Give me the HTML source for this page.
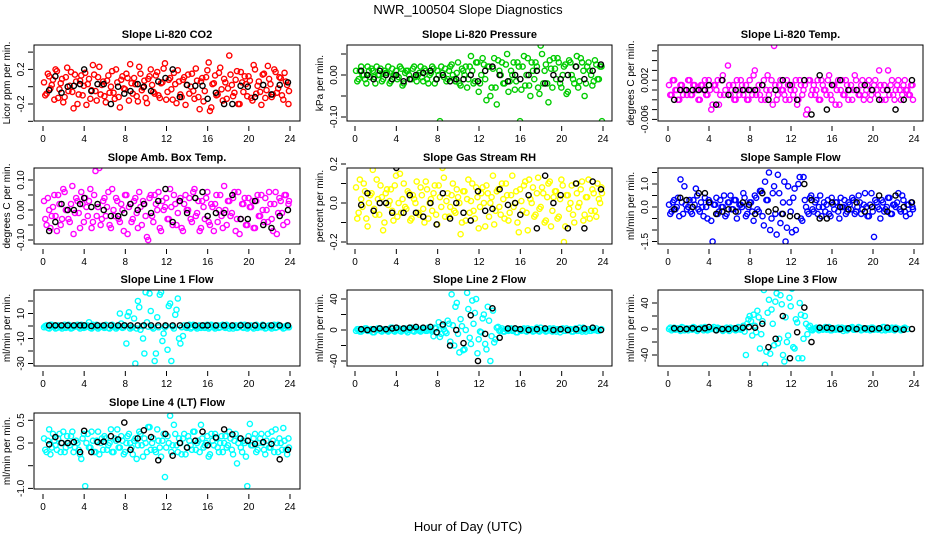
<!DOCTYPE html>
<html><head><meta charset="utf-8">
<style>
html,body{margin:0;padding:0;background:#fff;}
svg{display:block;font-family:"Liberation Sans",sans-serif;}
</style></head>
<body>
<svg id="chart" width="936" height="540" viewBox="0 0 936 540" xmlns="http://www.w3.org/2000/svg">
<rect x="0" y="0" width="936" height="540" fill="#fff"/>
<text x="468" y="14" text-anchor="middle" font-size="13">NWR_100504  Slope Diagnostics</text>
<text x="468" y="531" text-anchor="middle" font-size="13">Hour of Day (UTC)</text>
</svg>
<script>
const hoursA=[0.1,0.35,0.6,0.85,1.1,1.35,1.6,1.85,2.1,2.35,2.6,2.85,3.1,3.35,3.6,3.85,4.1,4.35,4.6,4.85,5.1,5.35,5.6,5.85,6.1,6.35,6.6,6.85,7.1,7.35,7.6,7.85,8.1,8.35,8.6,8.85,9.1,9.35,9.6,9.85,10.1,10.35,10.6,10.85,11.1,11.35,11.6,11.85,12.1,12.35,12.6,12.85,13.1,13.35,13.6,13.85,14.1,14.35,14.6,14.85,15.1,15.35,15.6,15.85,16.1,16.35,16.6,16.85,17.1,17.35,17.6,17.85,18.1,18.35,18.6,18.85,19.1,19.35,19.6,19.85,20.1,20.35,20.6,20.85,21.1,21.35,21.6,21.85,22.1,22.35,22.6,22.85,23.1,23.35,23.6,23.85];
const hoursB=[0.22,0.47,0.72,0.97,1.22,1.47,1.72,1.97,2.22,2.47,2.72,2.97,3.22,3.47,3.72,3.97,4.22,4.47,4.72,4.97,5.22,5.47,5.72,5.97,6.22,6.47,6.72,6.97,7.22,7.47,7.72,7.97,8.22,8.47,8.72,8.97,9.22,9.47,9.72,9.97,10.22,10.47,10.72,10.97,11.22,11.47,11.72,11.97,12.22,12.47,12.72,12.97,13.22,13.47,13.72,13.97,14.22,14.47,14.72,14.97,15.22,15.47,15.72,15.97,16.22,16.47,16.72,16.97,17.22,17.47,17.72,17.97,18.22,18.47,18.72,18.97,19.22,19.47,19.72,19.97,20.22,20.47,20.72,20.97,21.22,21.47,21.72,21.97,22.22,22.47,22.72,22.97,23.22,23.47,23.72,23.9];
const hoursK=[0.6,1.2,1.8,2.4,3.0,3.6,4.0,4.7,5.3,5.9,6.6,7.3,7.9,8.5,9.2,9.8,10.5,11.2,11.9,12.6,13.3,14.0,14.8,15.5,16.0,16.8,17.6,18.4,19.2,19.9,20.6,21.4,22.2,23.0,23.8];
const xTicks=[0,4,8,12,16,20,24];

const co2A=[0.05,-0.08,0.12,0.02,-0.15,0.18,-0.03,0.09,-0.12,0.22,0.01,-0.06,0.14,-0.2,0.07,-0.1,0.16,0.03,-0.14,0.25,-0.05,0.11,-0.09,0.06,-0.18,0.13,0.0,-0.07,0.2,-0.12,0.08,-0.02,0.15,-0.16,0.04,0.1,-0.11,0.23,-0.04,0.07,-0.19,0.12,0.02,-0.08,0.17,-0.13,0.05,0.27,-0.06,0.1,-0.15,0.03,0.19,-0.09,0.08,-0.21,0.14,0.0,-0.05,0.21,-0.12,0.06,-0.17,0.11,0.28,-0.24,0.04,-0.1,0.16,-0.03,0.09,-0.14,0.36,0.02,-0.07,0.18,-0.2,0.05,0.12,-0.11,0.07,-0.16,0.2,0.01,-0.06,0.14,-0.13,0.24,0.03,-0.09,0.17,-0.02,0.1,-0.15,0.06,-0.2];
const co2B=[-0.1,0.15,-0.02,0.08,0.2,-0.13,0.04,-0.18,0.11,-0.05,0.17,-0.25,0.06,-0.09,0.13,0.01,-0.21,0.09,-0.04,0.14,-0.16,0.23,0.02,-0.11,0.07,-0.07,0.18,-0.14,0.05,-0.24,0.12,-0.03,0.1,0.26,-0.08,0.03,-0.17,0.15,-0.01,-0.13,0.09,0.2,-0.06,0.13,-0.1,0.04,0.21,-0.15,0.08,-0.03,0.16,-0.19,0.06,-0.12,0.11,0.02,-0.08,0.15,-0.14,0.07,-0.26,0.1,-0.05,0.19,-0.28,0.03,0.13,-0.09,0.22,-0.16,0.05,-0.02,0.14,-0.11,0.08,-0.2,0.17,-0.06,0.03,0.12,-0.13,0.25,-0.08,0.06,-0.21,0.15,-0.04,0.09,-0.12,0.2,-0.07,0.11,-0.1,0.16,0.02,-0.05];
const co2K=[-0.04,0.12,-0.07,0.0,0.01,0.03,0.2,-0.05,0.03,0.03,-0.2,0.0,-0.08,-0.05,0.03,0.0,-0.05,0.06,0.1,0.2,-0.12,0.02,0.01,0.01,-0.14,-0.07,-0.2,-0.2,0.01,0.0,-0.12,0.02,-0.09,0.02,0.05];

const presA=[0.01,-0.01,0.02,0.0,-0.02,0.01,0.015,-0.005,0.02,0.0,-0.015,0.01,0.005,-0.02,0.015,0.0,-0.01,0.02,-0.025,0.005,0.01,-0.01,0.015,-0.005,0.0,0.02,-0.015,0.01,-0.02,0.005,0.015,-0.01,0.0,0.02,-0.005,-0.015,0.01,0.025,-0.01,0.005,-0.02,0.015,0.0,-0.03,0.02,0.01,-0.015,0.03,-0.02,0.04,-0.01,0.02,-0.05,0.015,-0.03,0.035,0.0,-0.02,0.025,-0.04,0.01,0.03,-0.015,0.02,-0.035,0.045,0.0,-0.025,0.03,-0.01,0.02,-0.045,0.05,0.01,-0.02,0.035,-0.03,0.015,0.04,-0.02,0.0,0.025,-0.04,0.03,-0.01,0.02,-0.03,0.04,0.01,-0.02,0.03,0.0,-0.015,0.025,-0.01,0.02];
const presB=[-0.015,0.01,0.0,-0.01,0.02,-0.005,0.01,-0.02,0.0,0.015,-0.01,0.005,0.02,-0.015,0.0,0.01,-0.005,0.015,-0.02,0.01,0.0,-0.01,0.02,-0.015,0.005,-0.005,0.015,-0.01,0.0,0.02,-0.02,0.01,-0.11,0.005,0.015,-0.01,0.02,0.0,-0.015,0.03,-0.025,0.01,0.02,-0.01,0.045,-0.02,0.03,-0.04,0.0,0.025,-0.06,0.02,-0.03,0.04,-0.07,0.01,0.03,-0.02,0.05,-0.015,0.0,-0.035,0.03,-0.11,0.02,-0.025,0.04,-0.05,0.01,0.03,-0.03,0.07,-0.02,0.025,-0.065,0.015,0.04,-0.01,0.03,-0.03,0.02,-0.045,0.035,0.0,-0.02,0.045,-0.015,0.03,-0.05,0.02,0.01,-0.025,0.035,-0.01,0.02,-0.11];
const presK=[0.01,0.0,-0.01,0.01,0.0,-0.01,0.0,-0.015,-0.01,0.0,0.005,0.01,-0.01,0.0,-0.015,-0.01,-0.01,0.0,-0.015,0.01,0.02,0.0,-0.015,0.0,-0.01,0.0,0.01,-0.02,0.0,-0.01,0.0,0.02,-0.01,0.01,0.025];

const tempA=[0.001,-0.001,0.002,0.0,-0.002,0.001,0.0,-0.001,0.002,-0.001,0.001,0.0,-0.002,0.001,0.002,-0.001,0.0,-0.003,0.001,0.002,-0.001,0.003,0.0,0.005,-0.001,0.001,-0.002,0.0,0.002,-0.001,0.001,-0.002,0.0,0.003,-0.001,0.001,-0.002,0.002,0.0,-0.001,0.002,0.009,-0.002,0.001,0.0,-0.001,0.002,-0.002,0.001,0.0,-0.003,0.002,-0.001,0.001,-0.004,0.002,0.0,-0.001,0.002,-0.002,0.001,0.0,0.002,-0.001,0.001,-0.003,0.002,0.0,-0.001,0.002,-0.002,0.001,0.0,0.002,-0.001,0.001,-0.002,0.0,0.002,-0.001,0.001,0.0,0.004,-0.002,0.001,0.0,-0.001,0.002,-0.002,0.001,0.0,-0.001,0.002,0.0,-0.001,0.001];
const tempB=[-0.001,0.002,0.0,-0.002,0.001,-0.001,0.0,0.002,-0.001,0.001,0.0,-0.002,0.001,0.0,-0.001,0.002,-0.004,0.001,0.0,-0.003,0.002,-0.001,-0.009,0.001,0.0,-0.002,0.002,-0.001,0.001,0.0,-0.002,0.002,-0.001,0.004,0.0,-0.001,0.001,-0.002,0.003,0.0,-0.003,0.001,-0.001,0.002,0.0,-0.002,0.001,0.0,-0.001,0.002,-0.002,0.001,0.0,-0.005,0.002,-0.001,0.001,0.0,-0.002,0.002,0.0,-0.001,0.003,-0.002,0.001,0.0,-0.003,0.002,-0.001,0.001,0.0,-0.002,0.003,0.0,-0.001,0.002,-0.001,0.001,-0.002,0.0,0.002,-0.001,0.001,0.0,-0.002,0.004,0.001,-0.001,0.0,0.002,-0.002,0.001,0.0,-0.001,0.001,-0.002];
const tempK=[-0.002,0.0,0.0,0.0,0.0,0.0,0.001,-0.003,0.002,-0.001,0.0,0.0,0.0,0.0,0.001,-0.002,0.0,0.002,0.001,-0.002,0.002,-0.005,0.003,-0.004,0.001,0.002,0.0,0.0,0.001,0.0,-0.002,0.0,-0.004,-0.002,0.002];

const boxA=[0.03,-0.05,0.0,-0.02,0.05,-0.07,0.02,-0.03,0.06,0.0,-0.04,0.08,-0.01,0.03,-0.06,0.02,0.04,-0.02,0.07,-0.04,0.13,0.01,-0.05,0.03,-0.02,0.06,-0.06,0.0,0.04,-0.03,0.02,-0.07,0.05,0.01,-0.04,0.03,-0.01,0.06,-0.05,0.02,-0.09,0.04,-0.02,0.05,0.0,-0.06,0.03,0.01,-0.03,0.07,-0.05,0.02,-0.01,0.04,-0.07,0.05,0.0,-0.03,0.06,-0.02,0.03,-0.06,0.01,0.04,-0.04,0.02,-0.07,0.05,0.0,-0.02,0.08,-0.05,0.03,-0.01,0.06,-0.03,-0.08,0.02,0.04,-0.05,0.01,0.03,-0.06,0.05,-0.02,0.0,0.04,-0.04,0.02,-0.07,0.06,-0.01,0.03,-0.05,0.05,0.02];
const boxB=[-0.03,0.04,-0.06,0.01,-0.02,0.05,-0.05,0.07,0.0,-0.03,0.02,-0.08,0.04,-0.01,0.06,-0.04,0.01,0.03,-0.06,0.05,-0.02,0.14,-0.03,0.04,0.01,-0.05,0.07,-0.02,0.03,-0.04,0.0,0.05,-0.08,0.02,-0.03,0.04,-0.06,0.01,0.03,-0.02,-0.1,0.05,-0.04,0.02,0.06,-0.07,0.0,0.04,-0.03,0.01,0.05,-0.05,0.03,-0.06,0.02,0.0,0.04,-0.04,0.07,-0.01,-0.07,0.03,-0.03,0.06,-0.05,0.01,0.02,-0.04,0.05,-0.06,0.0,0.03,-0.02,0.04,-0.07,0.06,-0.03,0.02,-0.05,0.04,0.01,-0.06,0.03,-0.02,0.05,-0.04,0.0,0.06,-0.03,0.02,-0.08,0.04,-0.01,0.05,-0.04,0.03];
const boxK=[-0.07,-0.04,0.02,0.0,0.0,0.02,0.04,0.01,0.02,0.0,-0.02,-0.02,-0.01,0.02,0.0,0.02,-0.01,0.03,0.07,-0.04,0.03,-0.01,0.04,0.06,-0.02,-0.01,-0.01,0.05,-0.03,-0.03,0.03,-0.05,-0.06,-0.02,0.0];

const rhA=[0.08,-0.05,0.02,0.1,-0.08,0.0,0.05,-0.03,0.12,-0.06,0.03,-0.1,0.07,0.01,-0.04,0.09,-0.07,0.15,0.02,-0.02,0.06,-0.09,0.04,0.0,-0.05,0.08,-0.03,0.11,-0.08,0.02,0.05,-0.06,0.09,-0.02,0.13,0.01,-0.07,0.04,-0.04,0.07,0.0,-0.1,0.06,0.02,-0.05,0.1,-0.08,0.03,-0.02,0.08,-0.12,0.05,0.0,0.14,-0.04,0.07,-0.06,0.02,0.1,-0.09,0.04,-0.02,0.06,-0.15,0.01,0.09,-0.05,0.12,0.0,-0.07,0.05,-0.03,0.08,-0.1,0.03,0.11,-0.04,0.06,-0.08,0.02,0.09,-0.12,0.04,0.0,-0.06,0.1,-0.02,0.07,-0.09,0.03,0.12,-0.04,0.05,-0.07,0.02,0.08];
const rhB=[-0.08,0.12,-0.02,0.06,-0.12,0.04,0.17,-0.06,0.02,0.09,-0.14,0.05,-0.01,0.07,-0.09,0.14,0.0,-0.05,0.1,-0.03,0.05,-0.08,0.02,0.11,-0.06,0.04,-0.1,0.07,0.0,-0.04,0.09,-0.11,0.03,0.18,-0.07,0.05,-0.02,0.1,-0.05,0.03,-0.16,0.06,-0.09,0.12,0.01,-0.04,0.08,-0.13,0.05,0.0,0.09,-0.07,0.03,-0.11,0.06,-0.02,0.1,-0.08,0.04,-0.05,0.14,0.0,-0.1,0.07,-0.04,0.11,-0.14,0.02,0.08,-0.06,0.13,-0.02,0.05,-0.09,0.1,-0.12,0.03,0.06,-0.07,0.12,-0.2,0.04,-0.03,0.09,-0.1,0.05,0.0,0.11,-0.06,0.03,-0.08,0.07,-0.04,0.1,0.0,0.05];
const rhK=[-0.01,0.05,-0.04,0.0,0.0,-0.05,0.18,-0.05,0.04,-0.05,-0.07,0.0,-0.11,0.05,-0.08,0.0,-0.05,-0.09,0.06,-0.04,-0.03,0.07,-0.01,0.0,-0.06,0.04,-0.13,0.14,0.0,0.04,-0.13,0.1,-0.13,0.11,0.07];

const sfA=[0.1,-0.2,0.3,0.0,-0.4,0.2,0.9,-0.1,0.3,-0.3,0.1,0.5,-0.2,0.0,0.4,-0.5,0.2,-1.5,0.1,-0.3,0.3,0.0,-0.4,0.2,0.5,-0.1,0.3,-0.2,0.1,0.6,-0.4,0.0,0.2,-0.6,0.4,-0.2,0.7,-0.8,0.3,1.5,-0.5,0.9,-1.2,0.6,-0.3,1.1,-0.9,0.2,-1.1,0.8,-0.4,1.3,-0.6,0.3,-0.2,0.4,-0.1,0.2,-0.3,0.5,0.0,-0.2,0.3,-0.4,0.1,0.2,-0.2,0.4,0.0,-0.3,0.2,-0.1,0.3,-0.2,0.5,-0.3,0.1,0.0,-0.4,0.6,-1.3,0.2,-0.1,0.3,-0.2,0.0,0.4,-0.3,0.1,0.2,-0.1,0.5,-0.2,0.1,-0.3,0.0];
const sfB=[-0.3,0.2,-0.1,0.4,1.2,-0.3,0.1,0.0,-0.2,0.3,0.8,-0.1,0.2,-0.4,0.0,0.3,-0.6,0.1,0.4,-0.2,0.0,0.5,-0.3,0.2,-0.1,0.3,-0.5,0.1,0.0,0.4,-0.3,0.2,-0.2,0.5,-0.1,0.7,-0.4,1.1,0.3,-1.0,0.6,-0.3,1.4,-0.7,0.2,-1.5,0.9,-0.2,0.4,-1.0,1.0,-0.5,1.3,0.0,-0.3,0.5,-0.2,0.3,0.0,-0.4,0.2,0.1,-0.3,0.4,-0.1,0.2,-0.5,0.0,0.3,-0.2,0.1,0.4,-0.3,0.0,0.2,-0.1,0.6,-0.4,0.1,-0.2,0.3,0.0,-0.5,0.2,-0.1,0.4,-0.3,0.1,0.0,0.6,-0.2,0.3,-0.4,0.1,0.2,-0.1];
const sfK=[-0.1,0.4,0.3,0.0,0.6,0.6,0.2,-0.3,-0.2,-0.1,-0.2,0.2,0.1,-0.3,0.6,-0.2,-0.1,-0.3,-0.4,-0.4,1.0,0.3,-0.5,-0.5,0.2,0.0,-0.1,0.2,-0.2,0.0,0.5,-0.2,0.5,0.0,0.2];

const l1A=[-1,0.5,-2,1,-0.5,-1.5,0,-2,1,-1,0.5,-1.5,-0.5,1,-2,0,-1,0.5,-1.5,1,-0.5,-2,0,-1,1,-1.5,0.5,-0.5,-2,0,2,-1,-14,11,-1,6,-2,15,0,-22,3,26,-1,-28,7,25,-12,-1,-19,18,-0.5,9,22,-14,-8,-1,0.5,-2,1,-1,0,-1.5,0.5,-0.5,-2,1,-1,0,-1.5,0.5,-1,1,-2,0,-0.5,-1.5,0.5,-1,1,-2,0,-1,0.5,-1.5,-0.5,1,-2,0,-1,0.5,-1.5,1,-0.5,-2,0,-1];
const l1B=[0,-1.5,1,-0.5,-2,0.5,-1,0,-1.5,1,-2,-0.5,0.5,-1,1,-1.5,0,3,-2,-0.5,1,-1,0,-1.5,0.5,-2,1,-0.5,-1,10,-1.5,0.5,8,-2,-1,-30,20,-3,-10,27,-0.5,12,-2,-22,-1,27,-6,0,16,-28,-2,13,-10,-1,0.5,-1.5,1,-1,0,-2,0.5,-0.5,-1.5,1,-1,0,-2,0.5,-1,1,-1.5,0,-0.5,-2,0.5,-1,1,-1.5,0,-1,0.5,-2,1,-0.5,-1,0,-1.5,0.5,-2,1,-1,0,-0.5,-1.5,0.5,-1];
const l1K=[0.5,0.5,0.5,0.5,0.5,0.5,0.5,0,0.5,0.5,0.5,0.5,0.5,0.5,0.5,0.5,0.5,0.5,0.5,0.5,0.5,0.5,0.5,0.5,0.5,0.5,0.5,0.5,0.5,0.5,0.5,0.5,0.5,0.5,0.5];

const l2A=[-1,1,-2,0,2,-1,1,-3,0,2,-2,1,-1,0,3,-2,1,-1,0,2,-3,1,-1,2,0,-2,1,-1,3,0,-8,2,10,-5,1,-4,8,46,-20,35,-29,5,-25,48,-10,38,22,-30,-2,15,-18,30,-40,25,-12,4,0,-2,1,-1,2,0,-3,1,-1,2,-2,0,1,-1,3,-2,0,1,-1,2,-2,0,1,-3,2,-1,0,1,-2,2,-1,0,3,-2,1,-1,0,2,-1,1];
const l2B=[1,-2,0,2,-1,0,-3,1,2,-1,0,1,-2,3,-1,0,2,-2,1,-1,0,3,-2,1,-1,2,0,-1,1,-2,3,-3,-9,5,-2,12,-15,6,30,-5,14,-26,0,27,-18,8,40,-12,-3,20,-25,12,-8,-16,3,-1,2,-2,0,1,-1,2,-3,0,1,-1,2,0,-2,1,-1,3,0,-2,1,-1,2,-2,0,1,-1,2,0,-2,1,-1,3,-2,0,1,-1,2,0,-1];
const l2K=[1,0,1,2,1,2,3,2,3,4,3,4,-3,7,-20,0,-17,19,-40,-5,28,-10,2,2,1,0,1,2,0,1,0,1,2,3,0];

const l3A=[0,-2,2,0,-1,3,-2,1,0,-1,2,-3,1,0,3,-2,0,1,-1,2,0,-3,1,-1,2,0,-2,3,-1,5,-40,15,12,22,-5,18,-8,60,-35,45,30,-25,55,-15,38,-50,-20,48,62,-30,10,40,-45,20,-8,5,-2,1,0,2,-1,3,0,-2,1,-1,2,0,-3,1,0,2,-1,0,3,-2,1,-1,0,2,-1,0,1,-2,3,0,-1,2,-2,1,0,-1,2,0];
const l3B=[2,0,-1,1,-3,2,0,-2,1,3,-1,0,2,-2,1,-1,0,3,-2,1,0,-1,2,-3,0,1,-1,2,0,-4,8,20,-10,5,28,-30,12,-55,25,-38,8,42,-22,52,-40,18,-10,35,-28,15,-45,22,-15,8,3,-1,0,2,-2,1,0,-1,3,-2,0,1,-1,2,0,-2,1,3,-1,0,2,-1,0,1,-2,2,0,-1,1,3,-2,0,1,-1,2,0,-2,1];
const l3K=[1,0,0,1,0,1,3,-2,0,0,1,2,3,2,8,-28,-15,20,-45,-5,33,-20,2,2,1,0,1,0,1,0,1,2,0,-1,0];

const l4A=[0.1,-0.2,0.3,-0.1,0.05,-0.15,0.2,0.0,-0.2,0.15,-0.05,0.25,-0.1,0.0,-0.25,0.1,-0.95,0.2,-0.1,0.05,-0.2,0.25,0.0,-0.15,0.1,-0.05,0.3,-0.2,0.05,-0.1,0.15,-0.25,0.0,0.2,-0.1,0.05,-0.35,0.25,-0.05,0.1,-0.2,0.35,0.0,-0.15,0.3,-0.1,0.05,-0.75,0.15,0.6,-0.05,0.2,-0.2,0.0,0.1,-0.25,0.15,-0.05,0.25,-0.15,0.05,0.4,-0.1,0.0,-0.3,0.2,-0.05,0.1,-0.2,0.15,0.0,-0.1,0.25,-0.15,0.05,-0.45,0.1,-0.2,0.0,-0.95,0.42,-0.05,0.2,-0.15,0.1,0.0,-0.25,0.2,-0.1,0.05,0.3,-0.2,0.0,0.33,-0.15,0.1];
const l4B=[-0.15,0.05,-0.25,0.2,-0.05,0.1,-0.2,0.25,-0.1,0.0,0.15,-0.2,0.05,-0.15,-0.35,0.2,0.0,-0.1,0.25,-0.2,0.05,-0.25,0.1,0.15,-0.15,0.0,-0.2,0.1,0.3,-0.1,0.05,-0.2,0.15,0.0,-0.25,0.1,-0.05,0.2,-0.3,0.0,0.35,-0.15,0.1,-0.2,0.05,-0.3,0.2,-0.1,0.0,-0.2,0.4,-0.05,0.1,-0.25,0.2,-0.1,0.05,-0.15,0.25,0.0,-0.2,0.1,-0.05,0.15,-0.25,0.05,0.2,-0.1,0.0,-0.2,0.15,-0.05,0.1,-0.25,0.2,0.0,-0.1,0.05,-0.3,0.15,-0.05,0.1,-0.2,0.0,0.2,-0.15,0.05,-0.1,0.25,-0.2,0.0,0.1,-0.15,0.05,-0.25,-0.1];
const l4K=[-0.03,0.13,0.0,0.0,0.02,-0.2,0.27,-0.2,0.02,0.03,0.15,0.08,0.45,-0.15,0.1,0.28,0.13,-0.38,0.2,-0.28,0.0,-0.1,0.05,0.25,-0.05,0.12,0.3,0.19,0.1,0.05,-0.02,0.02,-0.02,-0.36,-0.15];

const co2Ticks=[-0.4,-0.2,0,0.2,0.4], co2Labels=["","-0.2","","0.2",""];
const presTicks=[-0.1,-0.05,0,0.05], presLabels=["-0.10","","0.00",""];
const tempTicks=[-0.006,-0.004,-0.002,0,0.002,0.004,0.006,0.008], tempLabels=["-0.006","","","","0.002","","",""];
const boxTicks=[-0.1,-0.05,0,0.05,0.1], boxLabels=["-0.10","","0.00","","0.10"];
const rhTicks=[-0.2,-0.1,0,0.1,0.2], rhLabels=["-0.2","","0.0","","0.2"];
const sfTicks=[-1.5,-1,-0.5,0,0.5,1,1.5], sfLabels=["-1.5","","","0.0","","1.0",""];
const l1Ticks=[-30,-20,-10,0,10,20], l1Labels=["-30","","-10","","10",""];
const l2Ticks=[-40,-20,0,20,40], l2Labels=["-40","","0","","40"];
const l4Ticks=[-1,-0.5,0,0.5], l4Labels=["-1.0","","0.0","0.5"];

const cols=[{l:34,r:300,x0:43,x24:290},{l:347,r:612,x0:355,x24:603},{l:658,r:923,x0:668,x24:914}];
const rows=[{t:45,b:121},{t:168,b:244},{t:290,b:366},{t:413,b:489}];
const panels=[
 {name:"co2",title:"Slope Li-820 CO2",ylab:"Licor ppm per min.",c:0,r:0,y0:86.7,k:86.5,color:"#ff0000",A:co2A,B:co2B,K:co2K,ticks:co2Ticks,labels:co2Labels},
 {name:"pressure",title:"Slope Li-820 Pressure",ylab:"kPa per min.",c:1,r:0,y0:75,k:420,color:"#00cc00",A:presA,B:presB,K:presK,ticks:presTicks,labels:presLabels},
 {name:"li820-temp",title:"Slope Li-820 Temp.",ylab:"degrees C per min.",c:2,r:0,y0:90,k:4900,color:"#ff00ff",A:tempA,B:tempB,K:tempK,ticks:tempTicks,labels:tempLabels},
 {name:"amb-box-temp",title:"Slope Amb. Box Temp.",ylab:"degrees C per min.",c:0,r:1,y0:210,k:300,color:"#ff00ff",A:boxA,B:boxB,K:boxK,ticks:boxTicks,labels:boxLabels},
 {name:"gas-stream-rh",title:"Slope Gas Stream RH",ylab:"percent per min.",c:1,r:1,y0:203,k:195,color:"#ffff00",A:rhA,B:rhB,K:rhK,ticks:rhTicks,labels:rhLabels},
 {name:"sample-flow",title:"Slope Sample Flow",ylab:"ml/min per min.",c:2,r:1,y0:207,k:23,color:"#0000ff",A:sfA,B:sfB,K:sfK,ticks:sfTicks,labels:sfLabels},
 {name:"line1-flow",title:"Slope Line 1 Flow",ylab:"ml/min per min.",c:0,r:2,y0:326,k:1.25,color:"#00ffff",A:l1A,B:l1B,K:l1K,ticks:l1Ticks,labels:l1Labels},
 {name:"line2-flow",title:"Slope Line 2 Flow",ylab:"ml/min per min.",c:1,r:2,y0:330,k:0.775,color:"#00ffff",A:l2A,B:l2B,K:l2K,ticks:l2Ticks,labels:l2Labels},
 {name:"line3-flow",title:"Slope Line 3 Flow",ylab:"ml/min per min.",c:2,r:2,y0:329,k:0.65,color:"#00ffff",A:l3A,B:l3B,K:l3K,ticks:l2Ticks,labels:l2Labels},
 {name:"line4-flow",title:"Slope Line 4 (LT) Flow",ylab:"ml/min per min.",c:0,r:3,y0:443,k:45.4,color:"#00ffff",A:l4A,B:l4B,K:l4K,ticks:l4Ticks,labels:l4Labels}
];
const NS="http://www.w3.org/2000/svg";
const svg=document.getElementById('chart');
function mk(tag,attrs,parent){const e=document.createElementNS(NS,tag);for(const a in attrs)e.setAttribute(a,attrs[a]);parent.appendChild(e);return e;}
panels.forEach(p=>{
  const col=cols[p.c],row=rows[p.r];
  const g=mk('g',{},svg);
  
  
  const xs=h=>col.x0+(col.x24-col.x0)*h/24;
  const ys=v=>p.y0-v*p.k;
  const cx=(col.l+col.r)/2, cy=(row.t+row.b)/2;
  const t=mk('text',{x:cx,y:row.t-7,'text-anchor':'middle','font-size':'11','font-weight':'bold'},g);
  t.textContent=p.title;
  
  
  const yl=mk('text',{x:0,y:0,'text-anchor':'middle','font-size':'10',transform:`translate(${col.l-24},${cy}) rotate(-90)`},g);
  yl.textContent=p.ylab;
  
  
  const clip=mk('clipPath',{id:'clip-'+p.name},g);
  mk('rect',{x:col.l,y:row.t,width:col.r-col.l,height:row.b-row.t},clip);
  const pts=mk('g',{'clip-path':`url(#clip-${p.name})`,fill:'none','stroke-width':'1.4'},g);
  
  
  p.A.forEach((v,i)=>{const c=mk('circle',{cx:xs(hoursA[i]),cy:ys(v),r:2.6,stroke:p.color},pts);
    
    });
  p.B.forEach((v,i)=>{const c=mk('circle',{cx:xs(hoursB[i]),cy:ys(v),r:2.6,stroke:p.color},pts);
    
    });
  p.K.forEach((v,i)=>{const c=mk('circle',{cx:xs(hoursK[i]),cy:ys(v),r:2.6,stroke:'#000'},pts);
    
    });
  const box=mk('rect',{x:col.l,y:row.t,width:col.r-col.l,height:row.b-row.t,fill:'none',stroke:'#000','stroke-width':'1'},g);
  
  
  const xa=mk('g',{stroke:'#000','stroke-width':'1'},g);
  
  
  xTicks.forEach(h=>{mk('line',{x1:xs(h),x2:xs(h),y1:row.b+5,y2:row.b+10},xa);
    const tl=mk('text',{x:xs(h),y:row.b+21,'text-anchor':'middle','font-size':'10',stroke:'none',fill:'#000'},xa);
    tl.textContent=h;
    
    });
  const ya=mk('g',{stroke:'#000','stroke-width':'1'},g);
  
  
  p.ticks.forEach((v,i)=>{const y=ys(v);mk('line',{x1:col.l-6,x2:col.l-1,y1:y,y2:y},ya);
    if(p.labels[i]){const tl=mk('text',{x:0,y:0,'text-anchor':'middle','font-size':'10',stroke:'none',fill:'#000',transform:`translate(${col.l-10},${y}) rotate(-90)`},ya);
      tl.textContent=p.labels[i];
      
      }});
});
</script>
</body></html>
